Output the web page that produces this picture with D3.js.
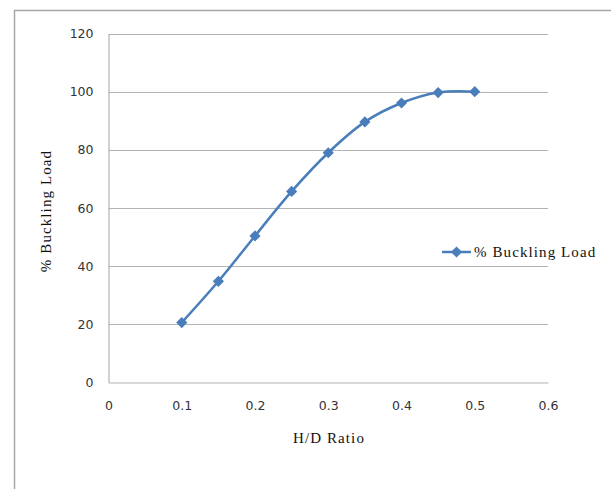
<!DOCTYPE html>
<html>
<head>
<meta charset="utf-8">
<script src="https://cdn.jsdelivr.net/npm/d3@7"></script>
<style>
  html, body { margin: 0; padding: 0; background: #fff; }
  svg { display: block; }
</style>
</head>
<body>
<svg id="chart" width="611" height="489"></svg>
<script>
// H/D ratio vs percentage of buckling load
const hdRatio = [0.1, 0.15, 0.2, 0.25, 0.3, 0.35, 0.4, 0.45, 0.5];
const bucklingLoad = [20.6, 34.8, 50.4, 65.7, 79.0, 89.6, 96.1, 99.7, 100];
const xTicks = [0, 0.1, 0.2, 0.3, 0.4, 0.5, 0.6];
const yTicks = [0, 20, 40, 60, 80, 100, 120];
const seriesName = "% Buckling Load";

const svg = d3.select("#chart");
const plotLeft = 108.5, plotRight = 548, plotTop = 33.5, plotBottom = 382.5;
const gridColor = "#b3b3b3";
const lineColor = "#4a7ebb";
const serif = "'Liberation Serif', serif";

const x = d3.scaleLinear().domain([0, 0.6]).range([plotLeft, plotRight]);
const y = d3.scaleLinear().domain([0, 120]).range([plotBottom, plotTop]);

// outer chart frame
svg.append("path")
  .attr("d", `M14.5,489 V10.5 H611`)
  .attr("fill", "none").attr("stroke", "#a6a6a6").attr("stroke-width", 1.5);

// horizontal gridlines
svg.append("g").selectAll("line").data(yTicks.filter(d => d > 0)).join("line")
  .attr("x1", plotLeft).attr("x2", plotRight)
  .attr("y1", d => Math.round(y(d)) + 0.5).attr("y2", d => Math.round(y(d)) + 0.5)
  .attr("stroke", gridColor).attr("stroke-width", 1);

// axes
const yAxis = d3.axisLeft(y).tickValues(yTicks).tickSize(0).tickPadding(15).tickFormat(d3.format("d"));
const xAxis = d3.axisBottom(x).tickValues(xTicks).tickSize(0).tickPadding(19).tickFormat(d => d === 0 ? "0" : d3.format(".1f")(d));

const gy = svg.append("g").attr("transform", `translate(${plotLeft},0)`).call(yAxis);
const gx = svg.append("g").attr("transform", `translate(0,${plotBottom})`).call(xAxis);
[gy, gx].forEach(g => {
  g.select(".domain").attr("stroke", gridColor).attr("stroke-width", 1.2);
  g.selectAll("text").attr("font-family", "'DejaVu Sans', sans-serif")
    .attr("font-size", 12.5).attr("fill", "#333");
});

// axis titles
svg.append("text")
  .attr("transform", `translate(51,211) rotate(-90)`)
  .attr("text-anchor", "middle")
  .attr("font-family", serif).attr("font-size", 15).attr("letter-spacing", 1.1).attr("fill", "#111")
  .text(seriesName);
svg.append("text")
  .attr("x", 329).attr("y", 443)
  .attr("text-anchor", "middle")
  .attr("font-family", serif).attr("font-size", 15).attr("letter-spacing", 1.1).attr("fill", "#111")
  .text("H/D Ratio");

// series
const pts = hdRatio.map((d, i) => [d, bucklingLoad[i]]);
const line = d3.line().x(d => x(d[0])).y(d => y(d[1])).curve(d3.curveCatmullRom.alpha(0.5));
svg.append("path").datum(pts)
  .attr("d", line).attr("fill", "none")
  .attr("stroke", lineColor).attr("stroke-width", 2.5).attr("stroke-linejoin", "round");

const diamond = d3.symbol().type(d3.symbolDiamond2).size(80);
svg.append("g").selectAll("path").data(pts).join("path")
  .attr("transform", d => `translate(${x(d[0])},${y(d[1])})`)
  .attr("d", diamond).attr("fill", lineColor);

// legend
const lg = svg.append("g").attr("transform", "translate(442,252)");
lg.append("line").attr("x1", 0).attr("x2", 29).attr("y1", 0).attr("y2", 0)
  .attr("stroke", lineColor).attr("stroke-width", 2.5);
lg.append("path").attr("transform", "translate(14.5,0)").attr("d", diamond).attr("fill", lineColor);
lg.append("text").attr("x", 32).attr("y", 5)
  .attr("font-family", serif).attr("font-size", 15).attr("letter-spacing", 1.1).attr("fill", "#111")
  .text(seriesName);
</script>
</body>
</html>
